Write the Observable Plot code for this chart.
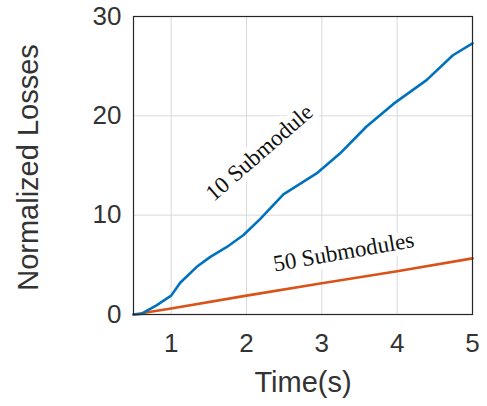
<!DOCTYPE html>
<html>
<head>
<meta charset="utf-8">
<script src="https://cdn.jsdelivr.net/npm/d3@7"></script>
<script src="https://cdn.jsdelivr.net/npm/@observablehq/plot@0.6"></script>
<style>
  html, body { margin: 0; padding: 0; background: #fff; }
  #chart { width: 487px; height: 406px; }
</style>
</head>
<body>
<div id="chart"></div>
<script>
// Data
const time10 = [0.5, 0.6, 0.68, 0.8, 0.9, 1.0, 1.12, 1.34, 1.52, 1.74, 1.96, 2.18, 2.49, 2.93, 3.24, 3.59, 3.95, 4.39, 4.74, 5.0];
const loss10 = [0, 0.05, 0.4, 0.9, 1.4, 1.9, 3.2, 4.8, 5.8, 6.8, 8.0, 9.6, 12.1, 14.2, 16.2, 18.9, 21.2, 23.6, 26.1, 27.3];
const time50 = [0.5, 1, 2, 3, 4, 5];
const loss50 = [0, 0.6, 1.9, 3.15, 4.35, 5.65];
const xTicks = [1, 2, 3, 4, 5];
const yTicks = [0, 10, 20, 30];
const labels = ["10 Submodule", "50 Submodules"];
const labelX = [2.17, 3.29];
const labelY = [16.3, 6.3];
const labelAngle = [-41, -10];

const s10 = time10.map((t, i) => ({t, v: loss10[i]}));
const s50 = time50.map((t, i) => ({t, v: loss50[i]}));
const ann = labels.map((s, i) => ({s, t: labelX[i], v: labelY[i], a: labelAngle[i]}));

const chart = Plot.plot({
  width: 487,
  height: 406,
  marginLeft: 133,
  marginRight: 15,
  marginTop: 16,
  marginBottom: 92,
  style: {fontFamily: "'Liberation Sans', Arial, sans-serif", background: "#fff"},
  x: {domain: [0.5, 5], ticks: xTicks, label: null},
  y: {domain: [0, 30], ticks: yTicks, label: null},
  marks: [
    Plot.gridX(xTicks, {stroke: "#d9d9d9", strokeOpacity: 1}),
    Plot.gridY(yTicks, {stroke: "#d9d9d9", strokeOpacity: 1}),
    Plot.text(ann, {x: "t", y: "v", text: "s", rotate: (d) => d.a, fontSize: 23,
      fontFamily: "'Liberation Serif', 'Times New Roman', serif",
      fill: "#111", stroke: "white", strokeWidth: 12, strokeLinejoin: "round"}),
    Plot.line(s50, {x: "t", y: "v", stroke: "#D95319", strokeWidth: 2.6}),
    Plot.line(s10, {x: "t", y: "v", stroke: "#0072BD", strokeWidth: 2.6}),
    Plot.frame({stroke: "#262626", strokeWidth: 1.2}),
    Plot.axisX(xTicks, {tickSize: 0, tickPadding: 19, fontSize: 26, fill: "#333", label: null}),
    Plot.axisY(yTicks, {tickSize: 0, tickPadding: 12, fontSize: 26, fill: "#333", label: null}),
    Plot.text(["Time(s)"], {frameAnchor: "bottom", dy: 77, fontSize: 29, fill: "#333"}),
    Plot.text(["Normalized Losses"], {frameAnchor: "left", textAnchor: "middle", rotate: -90, dx: -105, dy: 2, fontSize: 29, fill: "#333"})
  ]
});
document.getElementById("chart").appendChild(chart);
</script>
</body>
</html>
